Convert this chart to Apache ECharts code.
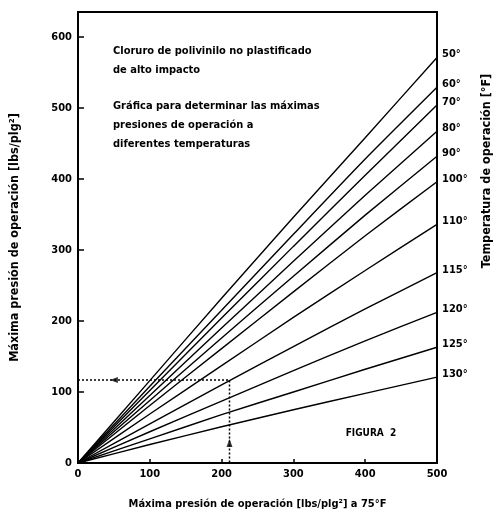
<!DOCTYPE html>
<html>
<head>
<meta charset="utf-8">
<script src="https://cdn.jsdelivr.net/npm/echarts@6/dist/echarts.min.js"></script>
<style>
html,body{margin:0;padding:0;background:#fff;}
#chart{width:503px;height:515px;}
</style>
</head>
<body>
<div id="chart"></div>
<script>
// ---- data ----
const xValues = [0, 100, 200, 300, 400, 500];
const temps = ['50°', '60°', '70°', '80°', '90°', '100°', '110°', '115°', '120°', '125°', '130°'];
const t50  = [0, 116, 232, 346, 458, 571];
const t60  = [0, 108, 215, 322, 428, 529];
const t70  = [0, 102, 204, 305, 405, 504];
const t80  = [0, 95, 190, 284, 377, 467];
const t90  = [0, 88, 176, 263, 349, 432];
const t100 = [0, 81, 161, 241, 320, 396];
const t110 = [0, 69, 137, 205, 271, 336];
const t115 = [0, 55, 110, 164, 217, 268];
const t120 = [0, 44, 87, 130, 172, 212];
const t125 = [0, 34, 68, 100, 132, 163];
const t130 = [0, 26, 51, 75, 98, 121];
const seriesValues = [t50, t60, t70, t80, t90, t100, t110, t115, t120, t125, t130];
const guideX = 211, guideY = 117;
const arrowLeftX = 50, arrowUpY = 28;
const xTicks = [0, 100, 200, 300, 400, 500];
const yTicks = [0, 100, 200, 300, 400, 500, 600];

const FONT = "'Liberation Sans Narrow', 'DejaVu Sans Condensed', 'Noto Sans', sans-serif";

const chart = echarts.init(document.getElementById('chart'), null, {renderer: 'canvas'});

const lineSeries = seriesValues.map((vals, i) => ({
  type: 'line',
  name: temps[i],
  data: xValues.map((x, j) => [x, vals[j]]),
  showSymbol: false,
  smooth: 0.2,
  lineStyle: {color: '#000', width: 1.4},
  itemStyle: {color: '#000'},
  endLabel: {
    show: true,
    formatter: temps[i],
    color: '#000',
    fontFamily: FONT,
    fontWeight: 'bold',
    fontSize: 11,
    distance: 5,
    offset: [0, -3]
  },
  z: 3,
  silent: true
}));

const option = {
  backgroundColor: '#fff',
  animation: false,
  grid: {left: 73, right: 66, top: 12, bottom: 48, show: true, borderColor: '#000', borderWidth: 2, backgroundColor: 'transparent'},
  xAxis: {
    type: 'value', min: 0, max: 500, interval: 100,
    name: 'Máxima presión de operación [lbs/plg²] a 75°F',
    nameLocation: 'middle', nameGap: 36,
    nameTextStyle: {color: '#000', fontFamily: FONT, fontWeight: 'bold', fontSize: 11},
    axisLine: {show: true, lineStyle: {color: '#000', width: 2}},
    axisTick: {show: true, inside: true, length: 4, lineStyle: {color: '#000', width: 1.5}},
    axisLabel: {color: '#000', fontFamily: FONT, fontWeight: 'bold', fontSize: 11, margin: 6,
      formatter: v => (xTicks.indexOf(v) >= 0 ? String(v) : '')},
    splitLine: {show: false}
  },
  yAxis: {
    type: 'value', min: 0, max: 635, interval: 100,
    name: 'Máxima presión de operación [lbs/plg²]',
    nameLocation: 'middle', nameGap: 57,
    nameTextStyle: {color: '#000', fontFamily: FONT, fontWeight: 'bold', fontSize: 12.5},
    axisLine: {show: true, lineStyle: {color: '#000', width: 2}},
    axisTick: {show: true, inside: true, length: 6, lineStyle: {color: '#000', width: 1.5}},
    axisLabel: {color: '#000', fontFamily: FONT, fontWeight: 'bold', fontSize: 11, margin: 6, showMaxLabel: false,
      formatter: v => (yTicks.indexOf(v) >= 0 ? String(v) : '')},
    splitLine: {show: false}
  },
  series: lineSeries.concat([
    {
      type: 'line',
      data: [[0, guideY], [guideX, guideY], [guideX, 0]],
      showSymbol: false,
      lineStyle: {color: '#000', width: 1.5, type: [2, 2]},
      z: 4, silent: true
    },
    {
      type: 'scatter',
      data: [[arrowLeftX, guideY]],
      symbol: 'triangle', symbolSize: [6, 8], symbolRotate: 90,
      itemStyle: {color: '#000'}, z: 5, silent: true
    },
    {
      type: 'scatter',
      data: [[guideX, arrowUpY]],
      symbol: 'triangle', symbolSize: [6, 8], symbolRotate: 0,
      itemStyle: {color: '#000'}, z: 5, silent: true
    }
  ]),
  graphic: [
    {type: 'text', left: 113, top: 46, style: {text: 'Cloruro de polivinilo no plastificado', fill: '#000', font: 'bold 11px ' + FONT}},
    {type: 'text', left: 113, top: 65, style: {text: 'de alto impacto', fill: '#000', font: 'bold 11px ' + FONT}},
    {type: 'text', left: 113, top: 101, style: {text: 'Gráfica para determinar las máximas', fill: '#000', font: 'bold 11px ' + FONT}},
    {type: 'text', left: 113, top: 120, style: {text: 'presiones de operación a', fill: '#000', font: 'bold 11px ' + FONT}},
    {type: 'text', left: 113, top: 139, style: {text: 'diferentes temperaturas', fill: '#000', font: 'bold 11px ' + FONT}},
    {type: 'text', x: 371, y: 433, style: {text: 'FIGURA  2', fill: '#000', font: 'bold 10px ' + FONT, align: 'center', verticalAlign: 'middle'}},
    {type: 'text', x: 487, y: 171, rotation: Math.PI / 2, style: {text: 'Temperatura de operación [°F]', fill: '#000', font: 'bold 12.5px ' + FONT, align: 'center', verticalAlign: 'middle'}}
  ]
};
chart.setOption(option);
</script>
</body>
</html>
